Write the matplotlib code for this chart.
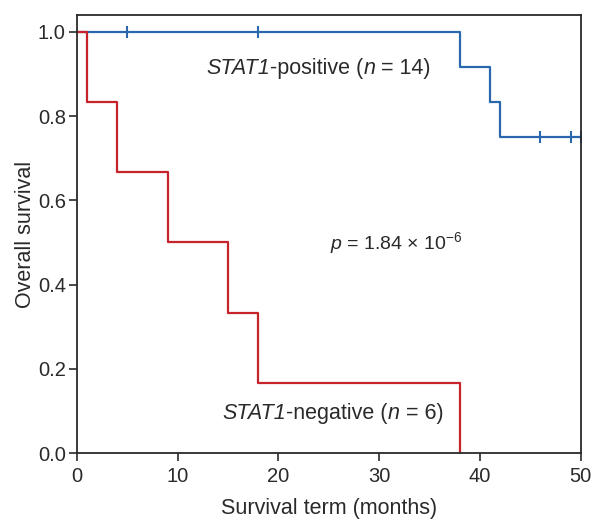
import numpy as np
import matplotlib
matplotlib.use("Agg")
import matplotlib.pyplot as plt

plt.rcParams['font.family'] = ['Liberation Sans', 'DejaVu Sans']
plt.rcParams['mathtext.fontset'] = 'custom'
plt.rcParams['mathtext.it'] = 'Liberation Sans:italic'
plt.rcParams['mathtext.rm'] = 'Liberation Sans'

# Kaplan-Meier steps
pos_times = [0, 38, 41, 42, 50]
pos_surv = [1.0, 0.917, 0.833, 0.75, 0.75]
pos_cens_t = [5, 18, 46, 49, 50]
pos_cens_s = [1.0, 1.0, 0.75, 0.75, 0.75]

neg_times = [0, 1, 4, 9, 15, 18, 38]
neg_surv = [1.0, 0.833, 0.667, 0.5, 0.333, 0.167, 0.0]

xticks = [0, 10, 20, 30, 40, 50]
yticks = [0.0, 0.2, 0.4, 0.6, 0.8, 1.0]

blue = '#2a67ad'
red = '#c6232b'
ink = '#2a2a2a'

fig = plt.figure(figsize=(5.92, 5.19), dpi=100)
ax = fig.add_axes([0.130, 0.127, 0.851, 0.844])

ax.step(pos_times, pos_surv, where='post', color=blue, lw=1.6)
ax.plot(pos_cens_t, pos_cens_s, ls='none', marker='|', ms=8, mew=1.5, color=blue)
ax.step(neg_times, neg_surv, where='post', color=red, lw=1.6)

ax.set_xlim(0, 50)
ax.set_ylim(0, 1.04)
ax.set_xticks(xticks)
ax.set_yticks(yticks)
ax.set_xticklabels([str(t) for t in xticks])
ax.set_yticklabels(['%.1f' % t for t in yticks])
ax.tick_params(direction='out', length=6, width=1.2, labelsize=14.5, colors=ink, pad=2)
ax.tick_params(axis='x', pad=4)
for s in ax.spines.values():
    s.set_linewidth(1.3)
    s.set_color(ink)

ax.set_xlabel('Survival term (months)', fontsize=15.5, color=ink, labelpad=9)
ax.set_ylabel('Overall survival', fontsize=15.5, color=ink, labelpad=1)


# text with italic and upright pieces, centred on xc
def mixed_text(xc, y, parts, size):
    texts = []
    for s, st in parts:
        texts.append(ax.text(0, y, s, style=st, fontsize=size, color=ink,
                             ha='left', va='baseline'))
    r = fig.canvas.get_renderer()
    widths = [t.get_window_extent(r).width for t in texts]
    px_per_unit = ax.get_window_extent(r).width / 50.0
    x = xc - sum(widths) / px_per_unit / 2
    for t, w in zip(texts, widths):
        t.set_x(x)
        x += w / px_per_unit


mixed_text(24.0, 0.90, [('STAT1', 'italic'), ('-positive (', 'normal'),
                        ('n', 'italic'), (' = 14)', 'normal')], 15.5)
mixed_text(31.7, 0.485, [('p', 'italic'), (' = 1.84 × 10$^{-6}$', 'normal')], 14)
mixed_text(25.4, 0.08, [('STAT1', 'italic'), ('-negative (', 'normal'),
                        ('n', 'italic'), (' = 6)', 'normal')], 15.5)

fig.savefig('out.png', dpi=100)
